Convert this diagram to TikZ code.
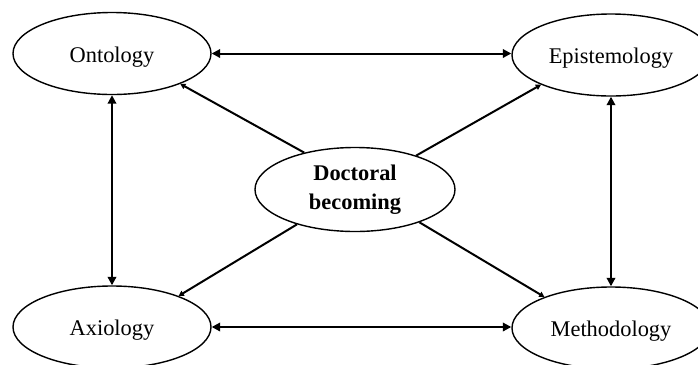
\documentclass[tikz,border=0pt]{standalone}
\usepackage{fontspec}
\setmainfont{Liberation Serif}
\usetikzlibrary{arrows.meta,shapes.geometric}
\begin{document}
\begin{tikzpicture}[x=0.5pt,y=-0.5pt,
  oval/.style={draw,ellipse,line width=0.7pt,minimum width=99pt,minimum height=41pt,inner sep=0pt,
    font=\fontsize{11.2pt}{14.5pt}\selectfont,align=center},
  outer/.style={oval,text height=10pt,text depth=1.5pt},
  bigarrow/.style={line width=1pt,{Triangle[length=4.2pt,width=4.2pt]}-{Triangle[length=4.2pt,width=4.2pt]}},
  smallarrow/.style={line width=1pt,-{Triangle[length=2.6pt,width=2.8pt]}}]
\useasboundingbox (0,0) rectangle (698,365);
\node[outer] (onto) at (112,53.5) {Ontology};
\node[outer] (epis) at (611,55) {Epistemology};
\node[outer] (axio) at (112,327) {Axiology};
\node[outer] (meth) at (611,328) {Methodology};
\node[oval,minimum width=100pt,minimum height=42pt] (doc) at (355,189.5) {\textbf{Doctoral}\\\textbf{becoming}};
\draw[bigarrow] (onto.east) -- (onto.east -| epis.west);
\draw[bigarrow] (axio.east) -- (axio.east -| meth.west);
\draw[bigarrow] (onto.south) -- (onto.south |- axio.north);
\draw[bigarrow] (epis.south) -- (epis.south |- meth.north);
\draw[smallarrow] (doc.144.9) -- (onto.336.8);
\draw[smallarrow] (doc.29.5) -- (epis.203.9);
\draw[smallarrow] (doc.211.6) -- (axio.25.9);
\draw[smallarrow] (doc.333.7) -- (meth.155);
\end{tikzpicture}
\end{document}
